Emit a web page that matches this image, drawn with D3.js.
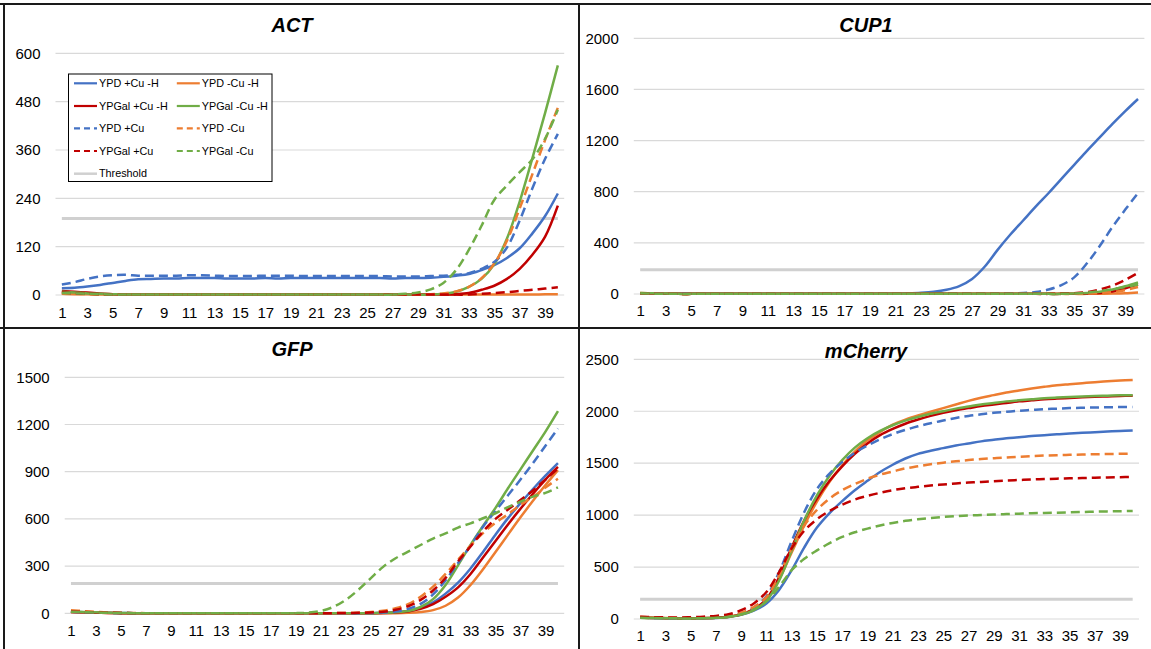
<!DOCTYPE html>
<html><head><meta charset="utf-8">
<script src="https://cdn.jsdelivr.net/npm/d3@7"></script>
<style>
html,body{margin:0;padding:0;background:#fff;}
svg{display:block;font-family:"Liberation Sans",Arial,Helvetica,sans-serif;}
</style></head>
<body>
<svg id="chart" width="1151" height="649"></svg>
<script>
// ---------- categories / ticks ----------
const cycles = [1,2,3,4,5,6,7,8,9,10,11,12,13,14,15,16,17,18,19,20,21,22,23,24,25,26,27,28,29,30,31,32,33,34,35,36,37,38,39,40];
const xTickLabels = [1,3,5,7,9,11,13,15,17,19,21,23,25,27,29,31,33,35,37,39];
const seriesNames = ["YPD +Cu -H","YPD -Cu -H","YPGal +Cu -H","YPGal -Cu -H","YPD +Cu","YPD -Cu","YPGal +Cu","YPGal -Cu"];
const seriesColors = ["#4472C4","#ED7D31","#C00000","#70AD47","#4472C4","#ED7D31","#C00000","#70AD47"];
const seriesDashed = [false,false,false,false,true,true,true,true];
const thresholdValue = 190;
const actTicks = [0,120,240,360,480,600];
const cup1Ticks = [0,400,800,1200,1600,2000];
const gfpTicks = [0,300,600,900,1200,1500];
const mchTicks = [0,500,1000,1500,2000,2500];

// ---------- ACT ----------
const actYpdCuH     = [17,18,21,25,30,35,39,40,41,41, 42,42,42,41,41,41,42,41,42,42, 42,42,42,42,42,42,41,42,42,43, 45,48,52,62,74,92,116,153,196,252];
const actYpdNoCuH   = [3,2,2,1,1,1,1,1,1,1, 1,1,1,1,1,1,1,1,1,1, 1,1,1,1,1,1,1,1,1,1, 1,1,1,1,1,1,1,1,2,2];
const actYpgalCuH   = [10,8,6,4,2,1,1,1,1,1, 1,1,1,1,1,1,1,1,1,1, 1,1,1,1,1,1,1,1,1,1, 1,2,5,13,23,40,65,100,145,222];
const actYpgalNoCuH = [8,6,4,3,2,1,1,1,1,1, 1,1,1,1,1,1,1,1,1,1, 1,1,1,1,1,1,1,1,1,1, 3,8,20,40,76,140,232,340,452,570];
const actYpdCu      = [26,32,40,46,49,50,48,48,48,48, 49,49,48,47,47,47,48,48,48,47, 47,47,47,47,47,47,46,46,46,47, 48,50,54,65,82,118,185,265,338,400];
const actYpdNoCu    = [4,3,2,1,1,1,1,1,1,1, 1,1,1,1,1,1,1,1,1,1, 1,1,1,1,1,1,1,1,1,2, 4,9,20,42,78,135,215,300,385,465];
const actYpgalCu    = [6,4,3,2,1,1,1,1,1,1, 1,1,1,1,1,1,1,1,1,1, 1,1,1,1,1,1,1,1,1,1, 1,1,1,3,5,7,10,13,16,19];
const actYpgalNoCu  = [5,4,3,2,1,1,1,1,1,1, 1,1,1,1,1,1,1,1,1,1, 1,1,1,1,1,1,1,3,6,14, 30,62,112,172,236,272,305,337,388,460];

// ---------- CUP1 ----------
const cup1YpdCuH     = [6,5,4,4,4,4,4,3,2,2, 2,2,2,2,2,2,2,2,2,2, 3,5,9,17,33,62,118,215,345,465, 575,685,790,900,1010,1120,1225,1330,1430,1525];
const cup1YpdNoCuH   = [8,5,3,1,1,1,1,1,1,1, 1,1,1,1,1,1,1,1,1,1, 1,1,1,1,1,1,1,1,1,1, 1,1,1,1,1,1,2,3,6,12];
const cup1YpgalCuH   = [6,4,2,1,1,1,1,1,1,1, 1,1,1,1,1,1,1,1,1,1, 1,1,1,1,1,1,1,1,1,1, 1,1,1,1,2,4,8,20,45,75];
const cup1YpgalNoCuH = [7,5,3,1,1,1,1,1,1,1, 1,1,1,1,1,1,1,1,1,1, 1,1,1,1,1,1,1,1,1,1, 1,1,1,1,3,8,18,35,60,90];
const cup1YpdCu      = [5,4,3,2,2,2,2,2,2,2, 2,2,2,2,2,2,2,2,2,2, 2,2,2,2,2,2,2,2,3,5, 8,15,35,70,130,240,375,525,660,790];
const cup1YpdNoCu    = [5,3,2,1,1,1,1,1,1,1, 1,1,1,1,1,1,1,1,1,1, 1,1,1,1,1,1,1,1,1,1, 1,1,1,1,1,3,8,15,30,55];
const cup1YpgalCu    = [5,3,2,1,1,1,1,1,1,1, 1,1,1,1,1,1,1,1,1,1, 1,1,1,1,1,1,1,1,1,1, 1,1,1,3,6,15,35,65,110,165];
const cup1YpgalNoCu  = [5,3,2,1,1,1,1,1,1,1, 1,1,1,1,1,1,1,1,1,1, 1,1,1,1,1,1,1,1,1,1, 1,1,1,1,4,10,22,38,55,75];

// ---------- GFP ----------
const gfpYpdCuH     = [10,7,4,3,2,1,1,1,1,1, 1,1,1,1,1,1,1,1,1,1, 1,1,1,1,1,3,6,15,35,70, 125,195,285,390,500,605,700,790,875,955];
const gfpYpdNoCuH   = [8,6,4,2,1,1,1,1,1,1, 1,1,1,1,1,1,1,1,1,1, 1,1,1,1,1,1,1,3,8,20, 48,100,180,280,390,500,610,715,815,910];
const gfpYpgalCuH   = [8,6,4,2,1,1,1,1,1,1, 1,1,1,1,1,1,1,1,1,1, 1,1,1,1,1,2,5,12,28,58, 105,165,250,355,460,565,665,760,850,930];
const gfpYpgalNoCuH = [12,9,6,4,2,1,1,1,1,1, 1,1,1,1,1,1,1,1,1,1, 1,1,1,1,1,3,7,15,40,90, 180,305,435,555,670,795,915,1035,1155,1285];
const gfpYpdCu      = [10,7,5,3,2,1,1,1,1,1, 1,1,1,1,1,1,1,1,1,1, 1,1,1,1,2,5,12,28,60,120, 210,320,430,550,650,750,850,955,1065,1175];
const gfpYpdNoCu    = [20,14,9,5,3,2,1,1,1,1, 1,1,1,1,1,1,1,1,1,1, 1,1,2,4,8,16,32,58,105,170, 250,340,430,510,575,630,690,740,800,855];
const gfpYpgalCu    = [12,9,6,4,2,1,1,1,1,1, 1,1,1,1,1,1,1,1,1,1, 1,1,2,3,5,10,22,45,85,145, 225,330,425,520,600,660,720,780,850,920];
const gfpYpgalNoCu  = [10,7,5,3,2,1,1,1,1,1, 1,1,1,1,1,1,1,1,1,4, 15,40,85,148,222,295,350,392,434,475, 508,545,572,604,636,675,710,742,765,800];

// ---------- mCherry ----------
const mchYpdCuH     = [15,10,7,5,5,6,10,20,40,80, 150,280,470,690,880,1020,1135,1240,1330,1415, 1485,1545,1590,1620,1645,1670,1690,1710,1725,1740, 1750,1762,1770,1778,1785,1792,1798,1804,1810,1815];
const mchYpdNoCuH   = [20,15,10,8,7,8,12,22,45,90, 180,380,640,900,1130,1320,1480,1610,1720,1800, 1870,1920,1960,1995,2030,2065,2100,2130,2155,2180, 2200,2218,2235,2250,2260,2270,2280,2288,2295,2300];
const mchYpgalCuH   = [15,10,8,6,6,8,12,22,45,95, 190,400,690,950,1160,1330,1470,1590,1690,1770, 1830,1880,1920,1955,1985,2010,2030,2050,2065,2080, 2095,2105,2115,2122,2128,2134,2139,2143,2147,2150];
const mchYpgalNoCuH = [12,9,7,5,5,7,11,20,42,85, 175,370,660,950,1190,1380,1530,1650,1740,1810, 1865,1910,1945,1975,2000,2025,2045,2065,2080,2095, 2105,2115,2125,2132,2138,2143,2147,2150,2153,2155];
const mchYpdCu      = [15,10,8,7,7,9,15,28,55,110, 220,450,750,1030,1250,1400,1510,1600,1670,1730, 1780,1820,1855,1885,1910,1935,1955,1970,1985,1995, 2005,2013,2020,2025,2030,2033,2036,2038,2040,2042];
const mchYpdNoCu    = [20,15,12,10,10,12,18,30,60,115, 210,420,680,900,1050,1160,1240,1300,1350,1390, 1420,1450,1470,1490,1505,1518,1530,1540,1548,1555, 1562,1568,1573,1577,1580,1583,1586,1588,1590,1592];
const mchYpgalCu    = [22,18,16,15,18,22,30,45,85,150, 260,450,680,850,960,1040,1100,1150,1185,1215, 1240,1258,1272,1285,1295,1305,1313,1320,1327,1333, 1338,1343,1347,1351,1354,1357,1360,1362,1365,1367];
const mchYpgalNoCu  = [12,9,7,6,6,8,12,22,45,90, 170,310,470,580,660,730,790,835,870,900, 925,945,960,972,982,990,996,1001,1006,1010, 1014,1018,1021,1024,1027,1030,1033,1036,1038,1040];

// ---------- panels (layout) ----------
const panels = [
  {title:"ACT", ticks:actTicks, series:[actYpdCuH,actYpdNoCuH,actYpgalCuH,actYpgalNoCuH,actYpdCu,actYpdNoCu,actYpgalCu,actYpgalNoCu],
   x0:55.5, x1:564.2, yTop:53.3, yBot:295, labelY:322, titleX:292, titleY:32, legend:true},
  {title:"CUP1", ticks:cup1Ticks, series:[cup1YpdCuH,cup1YpdNoCuH,cup1YpgalCuH,cup1YpgalNoCuH,cup1YpdCu,cup1YpdNoCu,cup1YpgalCu,cup1YpgalNoCu],
   x0:633.8, x1:1144.4, yTop:38.3, yBot:294, labelY:320.5, titleX:866, titleY:32, legend:false},
  {title:"GFP", ticks:gfpTicks, series:[gfpYpdCuH,gfpYpdNoCuH,gfpYpgalCuH,gfpYpgalNoCuH,gfpYpdCu,gfpYpdNoCu,gfpYpgalCu,gfpYpgalNoCu],
   x0:64.7, x1:564.2, yTop:377.3, yBot:613.3, labelY:640.5, titleX:292, titleY:355.5, legend:false},
  {title:"mCherry", ticks:mchTicks, series:[mchYpdCuH,mchYpdNoCuH,mchYpgalCuH,mchYpgalNoCuH,mchYpdCu,mchYpdNoCu,mchYpgalCu,mchYpgalNoCu],
   x0:633.8, x1:1139, yTop:359.3, yBot:619, labelY:645.5, titleX:866, titleY:358, legend:false}
];

const DASH = "9,5";
const svg = d3.select("#chart");
svg.append("rect").attr("width",1151).attr("height",649).attr("fill","#fff");

panels.forEach(p => {
  const g = svg.append("g");
  const x = d3.scalePoint().domain(cycles).range([p.x0, p.x1]).padding(0.5);
  const y = d3.scaleLinear().domain([0, d3.max(p.ticks)]).range([p.yBot, p.yTop]);

  // gridlines
  g.append("g").selectAll("line").data(p.ticks).join("line")
    .attr("x1", p.x0).attr("x2", p.x1)
    .attr("y1", d => y(d)).attr("y2", d => y(d))
    .attr("stroke", "#d9d9d9").attr("stroke-width", 1.2);

  // y axis labels
  const ya = g.append("g").attr("transform", `translate(${p.x0 - 15},0)`)
    .call(d3.axisLeft(y).tickValues(p.ticks).tickSize(0).tickPadding(0).tickFormat(d3.format("d")));
  ya.select(".domain").remove();
  ya.selectAll("text").attr("font-size", 15).attr("fill", "#000")
    .attr("font-family", '"Liberation Sans",Arial,sans-serif');

  // x axis labels
  const xa = g.append("g").attr("transform", `translate(0,${p.labelY - 15})`)
    .call(d3.axisBottom(x).tickValues(xTickLabels).tickSize(0).tickPadding(0));
  xa.select(".domain").remove();
  xa.selectAll("text").attr("font-size", 15).attr("fill", "#000").attr("dy", "0.71em")
    .attr("font-family", '"Liberation Sans",Arial,sans-serif');

  // threshold line
  const thrData = cycles.map(c => ({c, v: thresholdValue}));
  g.append("path").datum(thrData)
    .attr("d", d3.line().x(d => x(d.c)).y(d => y(d.v)))
    .attr("fill", "none").attr("stroke", "#d0d0d0").attr("stroke-width", 3);

  // series lines
  const line = d3.line().x(d => x(d.c)).y(d => y(d.v)).curve(d3.curveCatmullRom.alpha(0.5));
  p.series.forEach((vals, i) => {
    const data = cycles.map((c, k) => ({c, v: vals[k]}));
    g.append("path").datum(data)
      .attr("d", line)
      .attr("fill", "none")
      .attr("stroke", seriesColors[i])
      .attr("stroke-width", 2.5)
      .attr("stroke-dasharray", seriesDashed[i] ? DASH : null);
  });

  // title
  g.append("text").attr("x", p.titleX).attr("y", p.titleY)
    .attr("text-anchor", "middle").attr("font-size", 20).attr("font-weight", "bold")
    .attr("font-style", "italic").attr("fill", "#000").text(p.title);

  // legend
  if (p.legend) {
    const lg = g.append("g");
    lg.append("rect").attr("x", 68.5).attr("y", 74).attr("width", 203.5).attr("height", 107.5)
      .attr("fill", "#fff").attr("stroke", "#000").attr("stroke-width", 1);
    const rowsY = [83.3, 106, 128.3, 151, 173.7];
    const colLine = [74, 176.8];
    const items = seriesNames.map((n, i) => ({name:n, color:seriesColors[i], dashed:seriesDashed[i], col:i % 2, row:Math.floor(i / 2)}));
    items.push({name:"Threshold", color:"#d0d0d0", dashed:false, col:0, row:4, thr:true});
    items.forEach(it => {
      const yy = rowsY[it.row];
      const lx = colLine[it.col];
      lg.append("line").attr("x1", lx).attr("x2", lx + 23).attr("y1", yy).attr("y2", yy)
        .attr("stroke", it.color).attr("stroke-width", it.thr ? 2.5 : 2.2)
        .attr("stroke-dasharray", it.dashed ? "6,4" : null);
      lg.append("text").attr("x", lx + 25).attr("y", yy).attr("dy", "0.35em")
        .attr("font-size", 10.8).attr("fill", "#000").text(it.name);
    });
  }
});

// panel borders
const borders = [
  [0, 4, 1151, 4], [4, 4, 4, 649], [579, 4, 579, 649], [0, 328, 1151, 328]
];
svg.append("g").selectAll("line").data(borders).join("line")
  .attr("x1", d => d[0]).attr("y1", d => d[1]).attr("x2", d => d[2]).attr("y2", d => d[3])
  .attr("stroke", "#1a1a1a").attr("stroke-width", 2);
</script>
</body></html>
